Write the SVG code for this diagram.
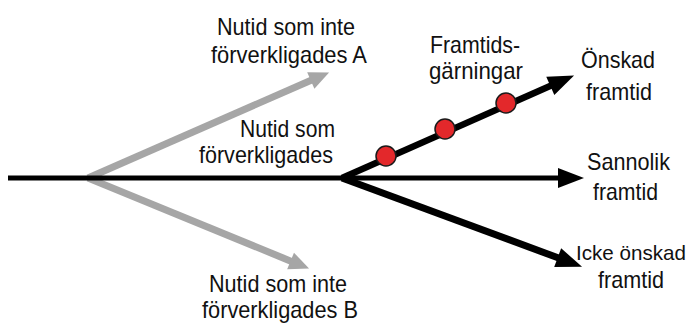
<svg xmlns="http://www.w3.org/2000/svg" width="697" height="327" viewBox="0 0 697 327">
<style>
text{font-family:"Liberation Sans",Arial,sans-serif;font-size:24px;fill:#111;}
.blk{stroke:#000;fill:none;stroke-linecap:butt;}
.gry{stroke:#a6a6a6;fill:none;stroke-width:7;stroke-linecap:butt;}
.dot{fill:#e3282b;stroke:#1a1a1a;stroke-width:1.5;}
</style>
<defs>
<marker id="ah" markerUnits="userSpaceOnUse" markerWidth="26" markerHeight="20" refX="1" refY="10" orient="auto" overflow="visible">
<path d="M0,0 L26,10 L0,20 z" fill="#000"/>
</marker>
<marker id="ahg" markerUnits="userSpaceOnUse" markerWidth="20" markerHeight="18" refX="1" refY="9" orient="auto" overflow="visible">
<path d="M0,0 L20,9 L0,18 z" fill="#a6a6a6"/>
</marker>
</defs>
<g id="connectors">
<line class="gry" x1="88" y1="178" x2="311.7" y2="80" marker-end="url(#ahg)"/>
<line class="gry" x1="88" y1="178" x2="291.5" y2="261.4" marker-end="url(#ahg)"/>
<line class="blk" stroke-width="5" x1="8" y1="178" x2="559" y2="178" marker-end="url(#ah)"/>
<line class="blk" stroke-width="6.5" x1="342" y1="178" x2="551.2" y2="85.5" marker-end="url(#ah)"/>
<line class="blk" stroke-width="7" x1="342" y1="178" x2="558.6" y2="258" marker-end="url(#ah)"/>
</g>
<g id="dots">
<circle class="dot" cx="386" cy="156" r="10"/>
<circle class="dot" cx="445" cy="129" r="10"/>
<circle class="dot" cx="506" cy="103" r="10"/>
</g>
<g id="node-nutid-a">
<text x="217" y="35" textLength="138" lengthAdjust="spacingAndGlyphs">Nutid som inte</text>
<text x="211" y="63" textLength="156" lengthAdjust="spacingAndGlyphs">förverkligades A</text>
</g>
<g id="node-nutid">
<text x="240" y="137" textLength="95" lengthAdjust="spacingAndGlyphs">Nutid som</text>
<text x="199" y="163" textLength="134" lengthAdjust="spacingAndGlyphs">förverkligades</text>
</g>
<g id="node-framtidsgarningar">
<text x="430" y="53" textLength="90" lengthAdjust="spacingAndGlyphs">Framtids-</text>
<text x="429" y="79" textLength="94" lengthAdjust="spacingAndGlyphs">gärningar</text>
</g>
<g id="node-onskad">
<text x="581" y="68" textLength="74" lengthAdjust="spacingAndGlyphs">Önskad</text>
<text x="586" y="100" textLength="66" lengthAdjust="spacingAndGlyphs">framtid</text>
</g>
<g id="node-sannolik">
<text x="587" y="170" textLength="83" lengthAdjust="spacingAndGlyphs">Sannolik</text>
<text x="593" y="200" textLength="65" lengthAdjust="spacingAndGlyphs">framtid</text>
</g>
<g id="node-icke-onskad">
<text x="576" y="260" style="font-size:21px" textLength="110" lengthAdjust="spacingAndGlyphs">Icke önskad</text>
<text x="598" y="288" textLength="66" lengthAdjust="spacingAndGlyphs">framtid</text>
</g>
<g id="node-nutid-b">
<text x="209" y="292" textLength="138" lengthAdjust="spacingAndGlyphs">Nutid som inte</text>
<text x="202" y="318" textLength="156" lengthAdjust="spacingAndGlyphs">förverkligades B</text>
</g>
</svg>
